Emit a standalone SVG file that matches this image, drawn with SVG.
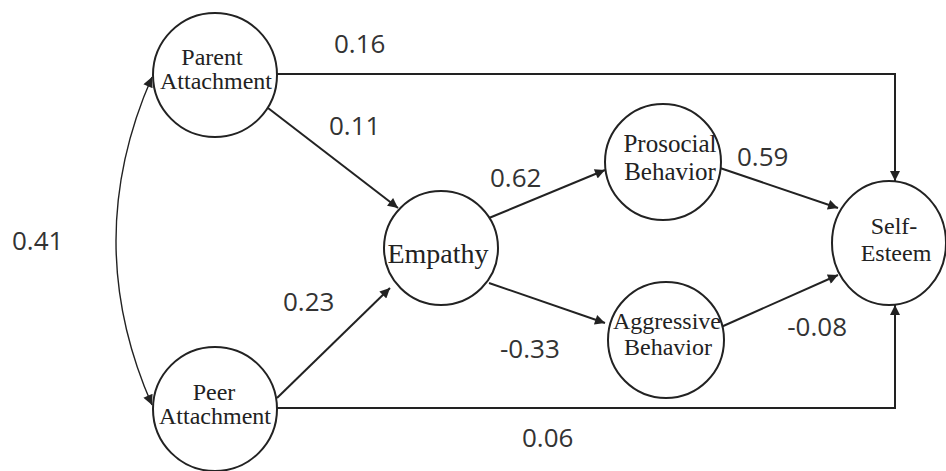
<svg xmlns="http://www.w3.org/2000/svg" width="946" height="471" viewBox="0 0 946 471">
<style>
.node circle,.node ellipse{fill:#fff;stroke:#222;stroke-width:2}
.lbl{font-family:"Liberation Serif","Times New Roman",serif;font-size:24px;fill:#222;text-anchor:middle}
.num{font-family:"Open Sans","Noto Sans",sans-serif;font-size:26px;fill:#333}
.edge{fill:none;stroke:#222;stroke-width:2}
.cov{fill:none;stroke:#222;stroke-width:1.4}
</style>
<defs>
<marker id="ah" viewBox="0 0 10 10" refX="10" refY="5" markerWidth="12" markerHeight="10" markerUnits="userSpaceOnUse" orient="auto-start-reverse">
<path d="M0,0 L10,5 L0,10 z" fill="#222"/>
</marker>
</defs>
<rect width="946" height="471" fill="#fff"/>
<g id="connectors">
<path class="cov" d="M152,77 Q80,241 152,405" marker-start="url(#ah)" marker-end="url(#ah)"/>
<path class="edge" d="M277,74 H895 V181" marker-end="url(#ah)"/>
<path class="edge" d="M277,408 H895 V305" marker-end="url(#ah)"/>
<line class="edge" x1="268" y1="108" x2="398" y2="208" marker-end="url(#ah)"/>
<line class="edge" x1="277" y1="398" x2="390" y2="288" marker-end="url(#ah)"/>
<line class="edge" x1="489" y1="218" x2="605" y2="170" marker-end="url(#ah)"/>
<line class="edge" x1="489" y1="283" x2="605" y2="323" marker-end="url(#ah)"/>
<line class="edge" x1="720" y1="168" x2="838" y2="208" marker-end="url(#ah)"/>
<line class="edge" x1="721" y1="327" x2="838" y2="275" marker-end="url(#ah)"/>
</g>
<g id="parent" class="node">
<circle cx="215" cy="75" r="62"/>
<text class="lbl" x="212" y="65">Parent</text>
<text class="lbl" x="216" y="89">Attachment</text>
</g>
<g id="peer" class="node">
<circle cx="215" cy="409" r="62"/>
<text class="lbl" x="214" y="400">Peer</text>
<text class="lbl" x="215" y="424">Attachment</text>
</g>
<g id="empathy" class="node">
<circle cx="441" cy="248" r="57"/>
<text class="lbl" x="438" y="263" style="font-size:28px">Empathy</text>
</g>
<g id="prosocial" class="node">
<circle cx="663" cy="162" r="58"/>
<text class="lbl" x="670" y="152" style="font-size:25px">Prosocial</text>
<text class="lbl" x="670" y="180" style="font-size:25px">Behavior</text>
</g>
<g id="aggressive" class="node">
<circle cx="666" cy="340" r="58"/>
<text class="lbl" x="667" y="329">Aggressive</text>
<text class="lbl" x="668" y="355">Behavior</text>
</g>
<g id="selfesteem" class="node">
<ellipse cx="889" cy="243" rx="57" ry="62"/>
<text class="lbl" x="894" y="234">Self-</text>
<text class="lbl" x="896" y="261">Esteem</text>
</g>
<g id="labels">
<text class="num" x="334" y="53">0.16</text>
<text class="num" x="329" y="135">0.11</text>
<text class="num" x="490" y="187">0.62</text>
<text class="num" x="737" y="166">0.59</text>
<text class="num" x="12" y="250">0.41</text>
<text class="num" x="283" y="311">0.23</text>
<text class="num" x="500" y="358">-0.33</text>
<text class="num" x="847" y="336" text-anchor="end">-0.08</text>
<text class="num" x="522" y="447">0.06</text>
</g>
</svg>
